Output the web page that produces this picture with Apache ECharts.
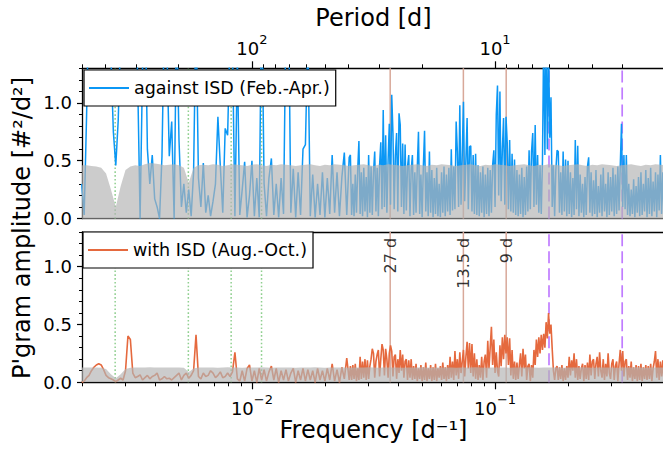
<!DOCTYPE html>
<html><head><meta charset="utf-8">
<script src="https://cdn.jsdelivr.net/npm/echarts@6/dist/echarts.min.js"></script>
<style>html,body{margin:0;padding:0;background:#fff}#c{width:663px;height:452px}</style>
</head><body><div id="c"></div>
<script>
// ---- sampling grids in log10(frequency [1/d]) ----
const lowStart = -2.70, lowStep = 0.01;     // low-frequency part
const highStart = -1.595, highStep = 0.005; // high-frequency part
const greyStart = -2.70, greyStep = 0.02;   // grey reference band

// ---- top panel: against ISD (Feb.-Apr.) ----
const blueLow = [
0.30,0.03,0.90,2.0,2.5,2.5,2.5,2.5,2.5,2.5,
2.5,2.0,1.4,0.75,0.46,0.85,1.6,2.5,2.5,2.5,
2.5,2.5,2.0,1.2,0.00,1.3,2.0,0.60,0.30,0.55,
0.17,0.10,0.00,0.54,1.8,1.5,0.54,0.84,0.00,1.8,
0.68,0.10,0.30,0.05,0.25,0.02,0.40,1.8,0.35,0.10,
0.48,0.05,0.20,0.02,0.15,0.30,0.88,0.45,0.05,0.78,
0.72,1.6,1.5,0.02,1.4,0.03,0.25,0.49,0.01,0.20,
0.50,0.02,0.35,0.01,2.0,0.30,0.02,0.35,0.52,0.03,
0.30,0.01,0.35,0.04,1.8,2.0,0.05,0.43,0.01,0.40,
0.03,0.60,0.64,1.6,0.02,0.38,0.01,0.30,0.03,0.40,
0.01,0.35,0.04,0.55,0.05,0.40,0.02,0.36,0.57,0.03,0.53];
const blueHigh = [
0.55,0.03,0.30,0.02,0.38,0.05,0.42,0.67,0.04,0.40,
0.02,0.44,0.06,0.36,0.01,0.55,0.05,0.45,0.03,0.40,
0.58,0.06,0.44,0.02,0.46,0.66,0.08,0.94,0.10,0.72,
0.05,0.50,0.82,0.12,1.07,0.74,0.08,0.55,0.74,0.06,
0.91,0.81,0.10,0.65,0.04,0.64,0.07,0.45,0.55,0.02,
0.42,0.55,0.03,0.40,0.05,0.44,0.75,0.04,0.38,0.01,
0.45,0.76,0.06,0.40,0.02,0.58,0.05,0.42,0.01,0.35,
0.04,0.44,0.02,0.30,0.01,0.40,0.05,0.45,0.02,0.38,
0.06,0.44,0.03,0.60,0.07,0.45,0.08,0.84,0.58,0.10,
0.98,0.12,0.55,1.01,0.15,0.50,0.87,0.08,0.62,0.63,
0.06,0.55,0.04,0.56,0.03,0.46,0.02,0.40,0.05,0.45,
0.01,0.38,0.04,0.44,0.02,0.42,0.05,0.46,0.59,0.10,
0.90,1.15,0.20,1.10,0.15,0.60,0.87,0.12,0.88,0.66,
0.08,0.68,0.06,0.56,0.05,0.51,0.03,0.42,0.02,0.38,
0.04,0.44,0.01,0.36,0.03,0.45,0.06,0.59,0.08,0.58,
0.74,0.10,0.81,0.12,0.55,0.05,0.46,0.04,0.50,1.60,
0.55,1.70,0.60,1.50,0.70,1.05,0.10,0.46,0.02,0.42,
0.59,0.58,0.05,0.40,0.03,0.58,0.06,0.51,0.02,0.50,
0.04,0.40,0.01,0.35,0.03,0.68,0.08,0.63,0.02,0.38,
0.05,0.30,0.01,0.36,0.03,0.45,0.53,0.05,0.40,0.02,
0.33,0.04,0.42,0.01,0.28,0.05,0.38,0.02,0.44,0.06,
0.30,0.01,0.40,0.03,0.36,0.06,0.44,0.02,0.38,0.04,
0.45,0.07,0.46,0.82,0.10,0.55,0.08,0.55,0.03,0.30,
0.02,0.25,0.04,0.34,0.01,0.28,0.05,0.36,0.02,0.40,
0.03,0.30,0.06,0.42,0.01,0.35,0.04,0.44,0.02,0.32,
0.06,0.40,0.01,0.38,0.07,0.55,0.04,0.40,0.02,0.36];
const greyTop = [
0.46,0.46,0.455,0.45,0.44,0.39,0.25,0.10,0.28,0.42,
0.45,0.46,0.455,0.47,0.48,0.475,0.47,0.46,0.465,0.47,
0.46,0.44,0.31,0.44,0.46,
0.465,0.46,0.47,0.465,0.455,0.46,0.47,0.465,0.46,0.455,
0.465,0.47,0.46,0.455,0.465,0.46,0.47,0.465,0.46,0.455,
0.46,0.465,0.47,0.46,0.455,0.465,0.46,0.47,0.465,0.46,
0.455,0.46,0.465,0.47,0.46,0.455,0.465,0.46,0.47,0.465,
0.46,0.455,0.46,0.465,0.47,0.46,0.455,0.465,0.46,0.47,
0.465,0.46,0.455,0.46,0.465,0.47,0.46,0.455,0.465,0.46,
0.47,0.465,0.46,0.455,0.46,0.465,0.47,0.46,0.455,0.465,
0.46,0.47,0.465,0.46,0.455,0.46,0.465,0.47,0.46,0.455,
0.465,0.46,0.47,0.465,0.46,0.455,0.46,0.465,0.47,0.46,
0.455,0.465,0.46,0.47,0.465,0.46];

// ---- bottom panel: with ISD (Aug.-Oct.) ----
const orangeLow = [
0.00,0.01,0.04,0.06,0.10,0.13,0.15,0.16,0.15,0.11,
0.06,0.04,0.03,0.02,0.005,0.02,0.035,0.02,0.10,0.40,
0.37,0.08,0.04,0.05,0.065,0.02,0.04,0.06,0.03,0.05,
0.06,0.08,0.02,0.03,0.05,0.03,0.035,0.02,0.04,0.06,
0.08,0.02,0.06,0.08,0.035,0.06,0.10,0.41,0.05,0.03,
0.08,0.05,0.06,0.10,0.08,0.04,0.06,0.09,0.04,0.05,
0.08,0.05,0.09,0.26,0.03,0.01,0.10,0.01,0.12,0.15,
0.01,0.10,0.00,0.12,0.02,0.11,0.01,0.09,0.14,0.02,
0.12,0.00,0.10,0.02,0.11,0.01,0.08,0.12,0.00,0.10,
0.02,0.12,0.01,0.11,0.02,0.10,0.00,0.12,0.02,0.10,
0.01,0.12,0.02,0.16,0.01,0.11,0.00,0.13,0.03,0.21,0.02];
const orangeHigh = [
0.14,0.02,0.15,0.03,0.16,0.01,0.12,0.02,0.22,0.03,
0.18,0.04,0.20,0.02,0.19,0.03,0.14,0.20,0.29,0.25,
0.04,0.18,0.24,0.28,0.05,0.20,0.33,0.28,0.06,0.29,
0.20,0.04,0.25,0.32,0.27,0.05,0.22,0.24,0.03,0.20,
0.08,0.28,0.10,0.24,0.04,0.18,0.20,0.02,0.19,0.04,
0.20,0.02,0.14,0.03,0.16,0.01,0.12,0.03,0.15,0.01,
0.13,0.02,0.17,0.01,0.12,0.03,0.15,0.01,0.13,0.02,
0.16,0.01,0.12,0.04,0.14,0.02,0.17,0.03,0.13,0.01,
0.15,0.03,0.22,0.04,0.18,0.02,0.27,0.06,0.20,0.03,
0.26,0.08,0.18,0.28,0.05,0.22,0.35,0.12,0.34,0.08,
0.33,0.05,0.25,0.03,0.20,0.02,0.15,0.04,0.22,0.02,
0.18,0.24,0.04,0.36,0.12,0.30,0.48,0.15,0.37,0.08,
0.26,0.10,0.05,0.32,0.14,0.39,0.20,0.41,0.25,0.39,
0.15,0.38,0.06,0.28,0.03,0.18,0.02,0.17,0.03,0.15,
0.25,0.05,0.29,0.12,0.24,0.02,0.14,0.16,0.01,0.15,
0.04,0.28,0.15,0.37,0.22,0.39,0.25,0.41,0.28,0.42,
0.30,0.52,0.38,0.60,0.42,0.50,0.29,0.10,0.02,0.12,
0.14,0.02,0.13,0.03,0.15,0.01,0.12,0.02,0.14,0.04,
0.22,0.06,0.19,0.10,0.25,0.04,0.20,0.02,0.14,0.03,
0.12,0.16,0.01,0.15,0.03,0.17,0.02,0.24,0.06,0.18,
0.20,0.03,0.16,0.22,0.05,0.26,0.10,0.04,0.20,0.02,
0.16,0.05,0.25,0.08,0.03,0.16,0.20,0.02,0.14,0.18,
0.01,0.16,0.28,0.10,0.27,0.05,0.18,0.20,0.02,0.14,
0.04,0.18,0.01,0.13,0.03,0.15,0.01,0.14,0.02,0.16,
0.01,0.13,0.03,0.15,0.02,0.14,0.03,0.16,0.01,0.12,
0.18,0.27,0.04,0.20,0.02,0.18,0.05,0.19,0.01,0.16];
const greyBottom = [
0.127,0.127,0.128,0.127,0.125,0.115,0.07,0.035,0.07,0.115,
0.126,0.128,0.127,0.129,0.13,0.128,0.127,0.128,0.129,0.127,
0.128,0.125,0.09,0.12,0.127,
0.128,0.127,0.129,0.126,0.128,0.130,0.127,0.128,0.126,0.129,
0.127,0.128,0.130,0.127,0.126,0.128,0.129,0.127,0.128,0.126,
0.129,0.127,0.128,0.130,0.127,0.126,0.128,0.129,0.127,0.128,
0.126,0.129,0.127,0.128,0.130,0.127,0.126,0.128,0.129,0.127,
0.128,0.126,0.129,0.127,0.128,0.130,0.127,0.126,0.128,0.129,
0.127,0.128,0.126,0.129,0.127,0.128,0.130,0.127,0.126,0.128,
0.129,0.127,0.128,0.126,0.129,0.127,0.128,0.130,0.127,0.126,
0.128,0.129,0.127,0.128,0.126,0.129,0.127,0.128,0.130,0.127,
0.126,0.128,0.129,0.127,0.128,0.126,0.129,0.127,0.128,0.130,
0.127,0.126,0.128,0.129,0.127,0.128];

// ---- reference periods (days) ----
const yearPeriods = [365.25, 182.625, 121.75, 91.3125];
const solarPeriods = [27, 13.5, 9];
const solarLabels = ['27 d', '13.5 d', '9 d'];
const harmonicPeriods = [6, 3];

// ---- axes / ticks ----
const freqMin = 0.002, freqMax = 0.5;
const yMax = 1.3;
const yMajor = [0, 0.5, 1.0];
const yMinor = [0.1,0.2,0.3,0.4,0.6,0.7,0.8,0.9,1.1,1.2,1.3];
const freqMajor = [0.01, 0.1];
const freqMinor = [0.002,0.003,0.004,0.005,0.006,0.007,0.008,0.009,0.02,0.03,0.04,0.05,0.06,0.07,0.08,0.09,0.2,0.3,0.4,0.5];
const periodMajor = [100, 10];
const periodMinor = [500,400,300,200,90,80,70,60,50,40,30,20,9,8,7,6,5,4,3,2];

const BLUE_NAME = 'against ISD (Feb.-Apr.)';
const ORANGE_NAME = 'with ISD (Aug.-Oct.)';
const BLUE = '#0b97f5', ORANGE = '#e5693e';
const FONT = 'DejaVu Sans';

const lg = v => Math.log10(v);
const uMin = lg(freqMin), uMax = lg(freqMax);
const grid = (start, step, vals) => vals.map((v, i) => [start + i * step, v]);
const blueData = grid(lowStart, lowStep, blueLow).concat(grid(highStart, highStep, blueHigh));
const orangeData = grid(lowStart, lowStep, orangeLow).concat(grid(highStart, highStep, orangeHigh));
const greyTopData = grid(greyStart, greyStep, greyTop);
const greyBottomData = grid(greyStart, greyStep, greyBottom);

const supRich = {
  b: {fontSize: 18, fontFamily: FONT, color: '#000', lineHeight: 24, verticalAlign: 'bottom'},
  s: {fontSize: 13, fontFamily: FONT, color: '#000', lineHeight: 14, verticalAlign: 'top'}
};
const spine = {color: '#000', width: 1.3};
function xAx(gi, pos, o) {
  return Object.assign({gridIndex: gi, type: 'value', min: uMin, max: uMax, position: pos,
    axisLine: {show: false, onZero: false}, axisTick: {show: false}, axisLabel: {show: false},
    splitLine: {show: false}, minorTick: {show: false}}, o);
}
function yAx(gi, o) {
  return Object.assign({gridIndex: gi, type: 'value', min: 0, max: yMax, position: 'left',
    axisLine: {show: false, onZero: false}, axisTick: {show: false}, axisLabel: {show: false},
    splitLine: {show: false}}, o);
}
const yMajorAxis = gi => yAx(gi, {
  axisLine: {show: true, onZero: false, lineStyle: spine},
  axisTick: {show: true, customValues: yMajor, length: 5, lineStyle: {color: '#000', width: 1.2}},
  axisLabel: {show: true, customValues: yMajor, formatter: v => v.toFixed(1), fontFamily: FONT, fontSize: 18, color: '#000', margin: 10}
});
const yMinorAxis = gi => yAx(gi, {
  axisTick: {show: true, customValues: yMinor, length: 3, lineStyle: {color: '#000', width: 1}}
});

const series = [];
function vline(P, xi, yi, style) {
  const u = -lg(P);
  series.push({type: 'line', xAxisIndex: xi, yAxisIndex: yi, data: [[u, 0], [u, yMax]], symbol: 'none',
    silent: true, z: 1, lineStyle: style, animation: false});
}
const greenStyle = {color: '#8fcf8f', width: 1.5, type: [1.6, 2.2]};
const tanStyle = {color: '#d8a899', width: 1.5};
const purpleStyle = {color: '#c07cff', width: 1.7, type: [12, 5]};
[[0, 0], [3, 2]].forEach(([xi, yi]) => {
  yearPeriods.forEach(P => vline(P, xi, yi, greenStyle));
  solarPeriods.forEach(P => vline(P, xi, yi, tanStyle));
  harmonicPeriods.forEach(P => vline(P, xi, yi, purpleStyle));
});
series.push(
  {name: BLUE_NAME, type: 'line', xAxisIndex: 0, yAxisIndex: 0, data: blueData, color: BLUE,
   symbol: 'none', lineStyle: {width: 1.5, color: BLUE}, z: 2, clip: true, silent: true},
  {type: 'line', xAxisIndex: 0, yAxisIndex: 0, data: greyTopData, symbol: 'none',
   lineStyle: {width: 0, opacity: 0}, areaStyle: {color: 'rgb(180,180,180)', opacity: 0.68}, z: 3, silent: true},
  {name: ORANGE_NAME, type: 'line', xAxisIndex: 3, yAxisIndex: 2, data: orangeData, color: ORANGE,
   symbol: 'none', lineStyle: {width: 1.6, color: ORANGE}, z: 2, clip: true, silent: true},
  {type: 'line', xAxisIndex: 3, yAxisIndex: 2, data: greyBottomData, symbol: 'none',
   lineStyle: {width: 0, opacity: 0}, areaStyle: {color: 'rgb(180,180,180)', opacity: 0.68}, z: 3, silent: true},
  {type: 'scatter', xAxisIndex: 3, yAxisIndex: 2, symbolSize: 0, silent: true, z: 5,
   data: solarPeriods.map((P, i) => ({value: [-lg(P), 1.25], label: {formatter: solarLabels[i]}})),
   label: {show: true, position: 'inside', rotate: 90, align: 'right', verticalAlign: 'middle',
     fontFamily: FONT, fontSize: 16, color: '#000'}}
);

const legendBase = {orient: 'horizontal', itemWidth: 40, itemHeight: 2, itemGap: 0, padding: [9, 6, 9, 5],
  borderColor: '#000', borderWidth: 1.2, borderRadius: 0, backgroundColor: '#fff', selectedMode: false,
  itemStyle: {borderWidth: 0}, textStyle: {fontFamily: FONT, fontSize: 17.5, color: '#000'}};

const option = {
  animation: false,
  backgroundColor: '#fff',
  grid: [
    {left: 82, top: 68.3, width: 583, height: 150.2, outerBoundsMode: 'none', containLabel: false},
    {left: 82, top: 232, width: 583, height: 150.3, outerBoundsMode: 'none', containLabel: false}
  ],
  xAxis: [
    xAx(0, 'bottom', {axisLine: {show: true, onZero: false, lineStyle: {color: '#555', width: 1.3}}}),
    xAx(0, 'top', {
      axisLine: {show: true, onZero: false, lineStyle: spine},
      axisTick: {show: true, customValues: periodMajor.map(p => -lg(p)), length: 7, lineStyle: {color: '#000', width: 1.2}},
      axisLabel: {show: true, customValues: periodMajor.map(p => -lg(p)), formatter: v => '{b|10}{s|' + Math.round(-v) + '}', rich: supRich, margin: 11},
      name: 'Period [d]', nameLocation: 'middle', nameGap: 38,
      nameTextStyle: {fontFamily: FONT, fontSize: 24, color: '#000'}
    }),
    xAx(0, 'top', {axisTick: {show: true, customValues: periodMinor.map(p => -lg(p)), length: 4, lineStyle: {color: '#000', width: 1}}}),
    xAx(1, 'bottom', {
      axisLine: {show: true, onZero: false, lineStyle: spine},
      axisTick: {show: true, customValues: freqMajor.map(lg), length: 7, lineStyle: {color: '#000', width: 1.2}},
      axisLabel: {show: true, customValues: freqMajor.map(lg), formatter: v => '{b|10}{s|\u2212' + Math.round(-v) + '}', rich: supRich, margin: 11},
      name: 'Frequency [d\u207b\u00b9]', nameLocation: 'middle', nameGap: 33,
      nameTextStyle: {fontFamily: FONT, fontSize: 24, color: '#000'}
    }),
    xAx(1, 'bottom', {axisTick: {show: true, customValues: freqMinor.map(lg), length: 4, lineStyle: {color: '#000', width: 1}}}),
    xAx(1, 'top', {axisLine: {show: true, onZero: false, lineStyle: spine}})
  ],
  yAxis: [yMajorAxis(0), yMinorAxis(0), yMajorAxis(1), yMinorAxis(1)],
  legend: [
    Object.assign({}, legendBase, {data: [{name: BLUE_NAME, icon: 'rect'}], left: 84, top: 70}),
    Object.assign({}, legendBase, {data: [{name: ORANGE_NAME, icon: 'rect'}], left: 83, top: 232})
  ],
  graphic: [{type: 'text', x: 22, y: 228, rotation: Math.PI / 2,
    style: {text: "P'gram amplitude [#\u00b2/d\u00b2]", fontFamily: FONT, fontSize: 24, fill: '#000', align: 'center', verticalAlign: 'middle'}}],
  series: series
};
const chart = echarts.init(document.getElementById('c'), null, {renderer: 'svg'});
chart.setOption(option);
</script></body></html>
